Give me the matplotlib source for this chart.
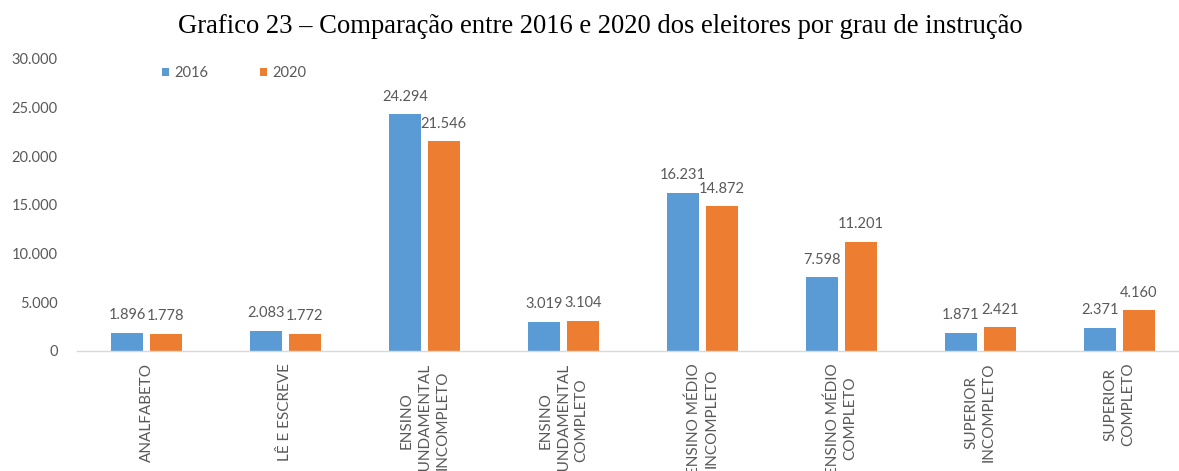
import matplotlib
matplotlib.use("Agg")
import matplotlib.pyplot as plt
from matplotlib.patches import Patch
from matplotlib.ticker import FuncFormatter
import numpy as np

categories = [
    "ANALFABETO",
    "LÊ E ESCREVE",
    "ENSINO\nFUNDAMENTAL\nINCOMPLETO",
    "ENSINO\nFUNDAMENTAL\nCOMPLETO",
    "ENSINO MÉDIO\nINCOMPLETO",
    "ENSINO MÉDIO\nCOMPLETO",
    "SUPERIOR\nINCOMPLETO",
    "SUPERIOR\nCOMPLETO",
]
eleitores_2016 = [1896, 2083, 24294, 3019, 16231, 7598, 1871, 2371]
eleitores_2020 = [1778, 1772, 21546, 3104, 14872, 11201, 2421, 4160]
series_labels = ["2016", "2020"]
y_ticks = [0, 5000, 10000, 15000, 20000, 25000, 30000]

BLUE = "#5B9BD5"
ORANGE = "#ED7D31"
GRAY = "#595959"
FONT = "Lato"

W, H = 1179, 471
fig = plt.figure(figsize=(W / 100, H / 100), dpi=100)
fig.patch.set_facecolor("white")

left, right, bottom, top = 77, 1188.6, 351, 58.5
ax = fig.add_axes([left / W, 1 - bottom / H, (right - left) / W, (bottom - top) / H])

def fmt(v):
    return f"{int(round(v)):,}".replace(",", ".")

x = np.arange(len(categories))
width = 0.23
offset = 0.14
b1 = ax.bar(x - offset, eleitores_2016, width, color=BLUE)
b2 = ax.bar(x + offset, eleitores_2020, width, color=ORANGE)

for bars in (b1, b2):
    for rect in bars:
        h = rect.get_height()
        ax.annotate(fmt(h), (rect.get_x() + rect.get_width() / 2, h),
                    xytext=(0, 7.5), textcoords="offset points",
                    ha="center", va="bottom", fontsize=10.5,
                    color=GRAY, family=FONT)

ax.set_xlim(-0.5, len(categories) - 0.5)
ax.set_ylim(0, 30000)
ax.set_yticks(y_ticks)
ax.yaxis.set_major_formatter(FuncFormatter(lambda v, p: fmt(v)))
ax.tick_params(axis="y", length=0, pad=14, labelsize=10.5, labelcolor=GRAY)
for lbl in ax.get_yticklabels():
    lbl.set_family(FONT)

ax.set_xticks(x)
ax.set_xticklabels(categories, rotation=90, ha="center", va="top",
                   multialignment="center", fontsize=11, color=GRAY,
                   family=FONT, linespacing=1.35)
ax.tick_params(axis="x", length=0, pad=8.5)

for s in ("top", "right", "left"):
    ax.spines[s].set_visible(False)
ax.spines["bottom"].set_color("#D9D9D9")
ax.spines["bottom"].set_linewidth(1.0)

handles = [Patch(facecolor=BLUE), Patch(facecolor=ORANGE)]
leg = fig.legend(handles, series_labels, loc="center left",
                 bbox_to_anchor=(152 / W, 1 - 73 / H), ncol=2, frameon=False,
                 handlelength=0.5, handleheight=0.5, handletextpad=0.35,
                 columnspacing=3.5, borderpad=0.2,
                 prop={"family": FONT, "size": 10.5})
for t in leg.get_texts():
    t.set_color(GRAY)

fig.text(600 / W, 1 - 33 / H,
         "Grafico 23 – Comparação entre 2016 e 2020 dos eleitores por grau de instrução",
         ha="center", va="baseline", fontsize=19.2, family="Liberation Serif",
         color="black")

fig.savefig("out.png", dpi=100, facecolor="white")
